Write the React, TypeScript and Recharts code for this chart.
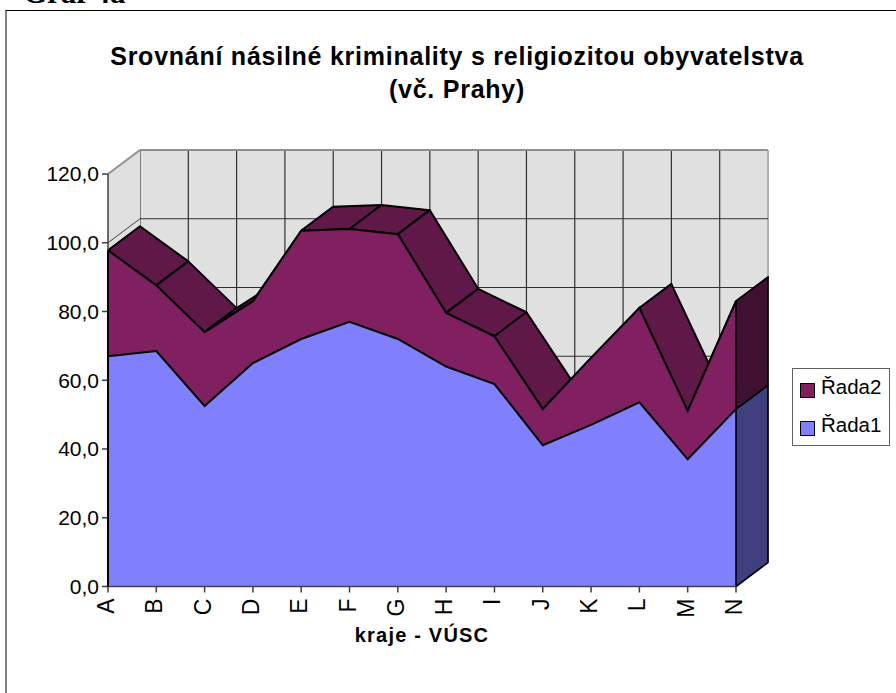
import React from 'react';
import {
  Area,
  CartesianGrid,
  ComposedChart,
  Line,
  ReferenceArea,
  ReferenceLine,
  XAxis,
  YAxis,
} from 'recharts';

const regions = ['A', 'B', 'C', 'D', 'E', 'F', 'G', 'H', 'I', 'J', 'K', 'L', 'M', 'N'];
const rada1 = [67, 68.5, 52.5, 65, 72, 77, 72, 64, 58.9, 41.1, 47, 53.6, 37, 51.6];
const rada2 = [30.8, 19.1, 21.5, 18, 31.5, 27, 30.5, 15.6, 13.9, 10.5, 19.5, 27.4, 14.1, 31.4];
const yTicks = [0, 20, 40, 60, 80, 100, 120];

const data = regions.map((kraj, i) => ({
  kraj,
  rada1: rada1[i],
  rada2: rada2[i],
  total: rada1[i] + rada2[i],
}));

const WIDTH = 896;
const HEIGHT = 693;
// depth of the fake 3D box, in pixels
const DX = 32;
const DY = 24;
const FRONT = { top: 174, right: 160, bottom: 106.5, left: 108 };
const BACK = { top: 174 - DY, right: 160 - DX, bottom: 106.5 + DY, left: 108 + DX };

const layer: React.CSSProperties = { position: 'absolute', left: 0, top: 0 };

const RidgeDot = (props: any) => {
  const { cx, cy, index, points } = props;
  const next = points && points[index + 1];
  if (!next) return <g key={index} />;
  const d = `M${cx},${cy}L${next.x},${next.y}L${next.x + DX},${next.y - DY}L${cx + DX},${cy - DY}Z`;
  return <path key={index} d={d} fill="#601848" stroke="#000" strokeWidth={2} strokeLinejoin="round" />;
};

const LeftWall = (props: any) => {
  const { x, y, height } = props;
  const d = `M${x},${y}L${x + DX},${y - DY}L${x + DX},${y + height - DY}L${x},${y + height}Z`;
  return <path d={d} fill="#e0e0e0" stroke="none" />;
};

const WallLine = (props: any) => {
  const { x1, y1 } = props;
  return <line x1={x1} y1={y1} x2={x1 + DX} y2={y1 - DY} stroke={props.stroke} strokeWidth={props.strokeWidth} />;
};

const BackLine = (props: any) => (
  <line x1={BACK.left} y1={props.y1} x2={WIDTH - BACK.right} y2={props.y1} stroke={props.stroke} strokeWidth={props.strokeWidth} />
);

const EdgeLine = (props: any) => {
  const { x, y, height } = props;
  return <line x1={x} y1={y} x2={x} y2={y + height} stroke={props.stroke} strokeWidth={2} />;
};

const sideFace = (fill: string) => (props: any) => {
  const { x, y, height } = props;
  const d = `M${x},${y}L${x + DX},${y - DY}L${x + DX},${y + height - DY}L${x},${y + height}Z`;
  return <path d={d} fill={fill} stroke="#000" strokeWidth={1.6} strokeLinejoin="round" />;
};

const RotatedTick = (props: any) => {
  const { x, y, payload } = props;
  return (
    <text
      transform={`translate(${x + 6},${y + 4}) rotate(-90)`}
      textAnchor="end"
      fontFamily="Liberation Sans"
      fontSize={23}
      fill="#000"
    >
      {payload.value}
    </text>
  );
};

const xAxisProps = {
  dataKey: 'kraj',
  type: 'category' as const,
  scale: 'point' as const,
  padding: { left: 0, right: 0 },
};

export default function App() {
  return (
    <div style={{ ...layer, width: WIDTH, height: HEIGHT, background: '#fff', overflow: 'hidden' }}>
      <div
        style={{
          position: 'absolute', left: 23, top: -25, fontFamily: 'Liberation Serif', fontWeight: 700,
          fontSize: 31, lineHeight: '36px', color: '#000',
        }}
      >
        Graf 4a
      </div>
      <div
        style={{
          position: 'absolute', left: 5, top: 10, width: 891, height: 700, boxSizing: 'border-box',
          borderTop: '1.5px solid #000', borderLeft: '2px solid #808080',
        }}
      />

      {/* back wall */}
      <div style={layer}>
        <ComposedChart width={WIDTH} height={HEIGHT} data={data} margin={BACK}>
          <CartesianGrid fill="#e0e0e0" stroke="#303030" strokeWidth={1.2} horizontal={false} />
          <XAxis {...xAxisProps} hide />
          <YAxis domain={[0, 120]} ticks={yTicks} hide />
        </ComposedChart>
      </div>

      {/* back wall horizontals and grey edges; the invisible line gives the y axis a series */}
      <div style={layer}>
        <ComposedChart width={WIDTH} height={HEIGHT} data={data} margin={BACK}>
          <XAxis {...xAxisProps} hide />
          <YAxis domain={[0, 120]} ticks={yTicks} hide />
          <Line dataKey="total" stroke="none" dot={false} activeDot={false} isAnimationActive={false} />
          {yTicks.map((t) => (
            <ReferenceLine
              key={t}
              y={t}
              stroke={t === 120 ? '#909090' : '#303030'}
              strokeWidth={t === 120 ? 2 : 1.2}
              shape={BackLine}
            />
          ))}
          <ReferenceArea x1="A" x2="A" y1={0} y2={120} stroke="#808080" shape={EdgeLine} />
          <ReferenceArea x1="N" x2="N" y1={0} y2={120} stroke="#b0b0b0" shape={EdgeLine} />
        </ComposedChart>
      </div>

      {/* left wall and ridge tops */}
      <div style={layer}>
        <ComposedChart width={WIDTH} height={HEIGHT} data={data} margin={FRONT}>
          <XAxis {...xAxisProps} hide />
          <YAxis domain={[0, 120]} ticks={yTicks} hide />
          <ReferenceArea x1="A" x2="A" y1={0} y2={120} shape={LeftWall} />
          {yTicks.map((t) => (
            <ReferenceLine
              key={t}
              y={t}
              stroke={t === 120 ? '#909090' : '#404040'}
              strokeWidth={t === 120 ? 2 : 1}
              shape={WallLine}
            />
          ))}
          <Line dataKey="total" stroke="none" dot={RidgeDot} activeDot={false} isAnimationActive={false} />
        </ComposedChart>
      </div>

      {/* front face, axes, right side */}
      <div style={layer}>
        <ComposedChart
          width={WIDTH}
          height={HEIGHT}
          data={data}
          margin={{ ...FRONT, left: FRONT.left - 70, bottom: FRONT.bottom - 60 }}
        >
          <XAxis
            {...xAxisProps}
            height={60}
            stroke="#404040"
            strokeWidth={1.5}
            tickSize={6}
            interval={0}
            tick={RotatedTick}
            label={{
              value: 'kraje - VÚSC',
              position: 'insideBottom',
              offset: 5,
              fill: '#000',
              fontFamily: 'Liberation Sans',
              fontWeight: 700,
              fontSize: 20,
              letterSpacing: 1.2,
            }}
          />
          <YAxis
            width={70}
            domain={[0, 120]}
            ticks={yTicks}
            stroke="#404040"
            strokeWidth={1.5}
            tickSize={6}
            tickMargin={3}
            tickFormatter={(v: number) => v.toFixed(1).replace('.', ',')}
            tick={{ fill: '#000', fontFamily: 'Liberation Sans', fontSize: 21 }}
          />
          <Area
            dataKey="rada1"
            stackId="a"
            name="Řada1"
            fill="#8080ff"
            fillOpacity={1}
            stroke="none"
            isAnimationActive={false}
          />
          <Area
            dataKey="rada2"
            stackId="a"
            name="Řada2"
            fill="#802060"
            fillOpacity={1}
            stroke="none"
            isAnimationActive={false}
          />
          <ReferenceArea x1="N" x2="N" y1={0} y2={rada1[13]} shape={sideFace('#404080')} />
          <ReferenceArea x1="N" x2="N" y1={rada1[13]} y2={rada1[13] + rada2[13]} shape={sideFace('#401030')} />
        </ComposedChart>
      </div>

      {/* black outlines of the front face, kept above the area fills */}
      <div style={layer}>
        <ComposedChart width={WIDTH} height={HEIGHT} data={data} margin={FRONT}>
          <XAxis {...xAxisProps} hide />
          <YAxis domain={[0, 120]} ticks={yTicks} hide />
          <ReferenceArea x1="A" x2="A" y1={0} y2={rada1[0] + rada2[0]} stroke="#000" shape={EdgeLine} />
          <Line dataKey="rada1" stroke="#000" strokeWidth={2} dot={false} activeDot={false} isAnimationActive={false} />
          <Line dataKey="total" stroke="#000" strokeWidth={2} dot={false} activeDot={false} isAnimationActive={false} />
        </ComposedChart>
      </div>

      <div
        style={{
          position: 'absolute', left: 0, width: 914, top: 40, textAlign: 'center', fontFamily: 'Liberation Sans',
          fontWeight: 700, fontSize: 25, lineHeight: '33px', letterSpacing: 0.75, color: '#000',
        }}
      >
        Srovnání násilné kriminality s religiozitou obyvatelstva
        <br />
        (vč. Prahy)
      </div>

      <div
        style={{
          position: 'absolute', left: 792, top: 368, width: 98, height: 78, boxSizing: 'border-box',
          border: '1px solid #606060', background: '#fff', fontFamily: 'Liberation Sans', fontSize: 20.5, color: '#000',
        }}
      >
        {[['Řada2', '#802060'], ['Řada1', '#8080ff']].map(([name, color], i) => (
          <div key={name} style={{ position: 'absolute', left: 7, top: 4 + i * 38, height: 28, display: 'flex', alignItems: 'center' }}>
            <span style={{ width: 15, height: 15, boxSizing: 'border-box', border: '1.5px solid #000', background: color, marginRight: 6, marginTop: 6 }} />
            {name}
          </div>
        ))}
      </div>
    </div>
  );
}
